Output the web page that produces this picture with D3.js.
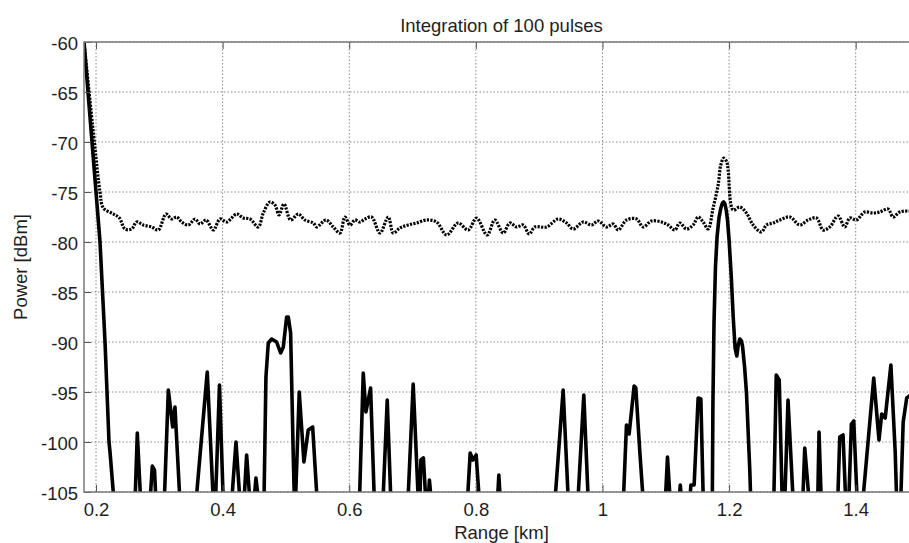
<!DOCTYPE html>
<html>
<head>
<meta charset="utf-8">
<script src="https://cdn.jsdelivr.net/npm/d3@7"></script>
<style>
  body { margin: 0; background: #fff; }
  text { font-family: "Liberation Sans", Arial, sans-serif; fill: #1e1e1e; }
</style>
</head>
<body>
<div id="chart"></div>
<script>
// axis ticks
const rangeTicks = [0.2, 0.4, 0.6, 0.8, 1, 1.2, 1.4];
const powerTicks = [-105, -100, -95, -90, -85, -80, -75, -70, -65, -60];

// dotted trace (noise floor of the integrated signal)
const dottedKm = [0.181, 0.1973, 0.2063, 0.2116, 0.2274, 0.2369, 0.2458, 0.2563, 0.2642, 0.2747,
  0.2879, 0.2984, 0.3105, 0.3195, 0.3274, 0.3353, 0.3458, 0.3563, 0.3642, 0.3737,
  0.3853, 0.3958, 0.4064, 0.4222, 0.4326, 0.4432, 0.4563, 0.4642, 0.4747, 0.4826,
  0.4890, 0.4969, 0.5074, 0.5195, 0.5300, 0.5432, 0.5485, 0.5632, 0.5748, 0.5853,
  0.5932, 0.6011, 0.6090, 0.6169, 0.6248, 0.6353, 0.6485, 0.6617, 0.6695, 0.6800,
  0.6932, 0.7064, 0.7222, 0.7380, 0.7538, 0.7721, 0.7879, 0.8011, 0.8178, 0.8300,
  0.8431, 0.8537, 0.8643, 0.8748, 0.8842, 0.8932, 0.9117, 0.9300, 0.9432, 0.9537,
  0.9695, 0.9827, 0.9932, 1.0064, 1.0169, 1.0248, 1.0380, 1.0538, 1.0643, 1.0774,
  1.0932, 1.1037, 1.1143, 1.1221, 1.1327, 1.1432, 1.1511, 1.1590, 1.1669, 1.1748,
  1.1827, 1.1869, 1.1916, 1.1963, 1.1985, 1.2064, 1.2169, 1.2274, 1.2380, 1.2511,
  1.2590, 1.2696, 1.2801, 1.2959, 1.3117, 1.3248, 1.3380, 1.3485, 1.3590, 1.3722,
  1.3827, 1.3906, 1.4011, 1.4143, 1.4274, 1.4380, 1.4511, 1.4590, 1.4696, 1.4838, 1.5];
const dottedDbm = [-60, -70, -75, -76.6, -77.2, -77.6, -78.7, -78.7, -78.0, -78.3,
  -78.5, -78.8, -77.2, -77.7, -77.5, -78.0, -78.3, -77.7, -78.2, -77.8,
  -78.8, -77.7, -78.0, -77.2, -77.6, -77.7, -78.5, -77.1, -76.0, -76.3,
  -77.3, -76.2, -77.8, -77.2, -77.8, -78.1, -78.5, -77.8, -78.5, -79.1,
  -77.5, -78.3, -77.8, -78.0, -77.7, -77.5, -79.1, -77.5, -79.1, -78.6,
  -78.3, -78.1, -77.8, -78.0, -79.3, -78.1, -78.8, -77.6, -79.3, -77.8,
  -79.1, -78.1, -78.5, -78.3, -79.2, -78.5, -78.5, -77.7, -78.1, -78.7,
  -78.0, -78.3, -77.9, -78.5, -78.2, -78.8, -77.8, -77.7, -78.5, -77.9,
  -78.0, -78.3, -78.8, -78.1, -78.7, -78.3, -77.5, -78.0, -78.7, -76.6,
  -74.3, -72.3, -71.6, -72.0, -72.8, -76.8, -76.5, -77.1, -78.3, -79.0,
  -78.3, -78.1, -77.8, -77.5, -78.3, -77.8, -77.6, -78.8, -78.5, -77.4,
  -78.5, -77.6, -77.8, -77.0, -77.1, -77.0, -76.7, -77.5, -77.0, -76.9, -77.0];

// solid trace (values under -105 fall below the axis and are clipped)
const solidKm = [0.181, 0.2, 0.2063, 0.2142, 0.2205, 0.2221, 0.2285, 0.245,
  0.2616, 0.2652, 0.2706, 0.278, 0.2853, 0.2889, 0.2924, 0.2947, 0.301,
  0.3078, 0.3142, 0.3211, 0.3247, 0.3326, 0.345,
  0.3579, 0.3757, 0.3853, 0.387, 0.3887, 0.3950, 0.4010, 0.408,
  0.4142, 0.4211, 0.4274, 0.4305, 0.4337, 0.4379, 0.4432, 0.4465, 0.4495, 0.4526, 0.4569, 0.461,
  0.4653, 0.4684, 0.4721, 0.4774, 0.4853, 0.4916, 0.4958, 0.5011, 0.5037, 0.5074, 0.5116, 0.5134,
  0.5142, 0.5150, 0.5210, 0.5284, 0.5352, 0.5422, 0.5494, 0.583,
  0.6161, 0.6221, 0.6263, 0.6337, 0.6397, 0.646, 0.6532, 0.6600, 0.6658, 0.679,
  0.6927, 0.7010, 0.7092, 0.711, 0.7132, 0.7171, 0.7211, 0.7238, 0.7266, 0.7298, 0.758,
  0.7866, 0.7910, 0.7953, 0.8005, 0.8056, 0.82, 0.8340, 0.8363, 0.8387, 0.88,
  0.9248, 0.9379, 0.9461, 0.9536, 0.9611, 0.9705, 0.9776, 1.005,
  1.0329, 1.0379, 1.0421, 1.0500, 1.0527, 1.0590, 1.0645, 1.082,
  1.0992, 1.1027, 1.1071, 1.114, 1.1208, 1.1229, 1.1251, 1.1315,
  1.1380, 1.1396, 1.1448, 1.1511, 1.1554, 1.1593, 1.166,
  1.1735, 1.1745, 1.1762, 1.1785, 1.1810, 1.1840, 1.1870, 1.1895, 1.1915, 1.1935,
  1.1955, 1.1975, 1.2000, 1.2035, 1.2065, 1.2095, 1.2122,
  1.2145, 1.2169, 1.2195, 1.2212, 1.2245, 1.2275, 1.2327, 1.2343, 1.252,
  1.2706, 1.2745, 1.2792, 1.2840, 1.286, 1.2879, 1.2931, 1.3013, 1.309,
  1.3163, 1.3195, 1.3266, 1.333, 1.3400, 1.3421, 1.3456, 1.358,
  1.3716, 1.3748, 1.3800, 1.3843, 1.3865, 1.3890, 1.3932, 1.3969, 1.4024, 1.407,
  1.4111, 1.4285, 1.4368, 1.4411, 1.4466, 1.4556, 1.4624, 1.4648, 1.468,
  1.4711, 1.4750, 1.4806, 1.4869, 1.4948, 1.4995];
const solidDbm = [-60, -75, -80, -90, -100, -101, -106, -112,
  -106, -99.1, -106, -112, -106, -102.4, -102.8, -106, -112,
  -106, -94.8, -98.5, -96.5, -106, -112,
  -106, -93.0, -106, -108, -106, -94.3, -106, -112,
  -106, -100.0, -106, -108, -106, -101.3, -106, -108, -106, -103.6, -106, -110,
  -106, -93.5, -90.1, -89.7, -90.0, -91.1, -90.5, -87.5, -87.5, -89.1, -101.5, -106,
  -107, -106, -95.0, -102.0, -98.8, -98.5, -106, -112,
  -106, -93.1, -97.0, -94.6, -106, -110, -106, -95.8, -106, -112,
  -106, -94.2, -106, -107, -101.8, -101.6, -106, -107, -103.8, -106, -112,
  -106, -101.1, -101.8, -101.3, -106, -112, -106, -103.3, -106, -112,
  -106, -94.8, -106, -110, -106, -95.3, -106, -112,
  -106, -98.3, -99.2, -94.4, -94.6, -101, -106, -112,
  -106, -101.5, -106, -109, -106, -104.3, -106, -109,
  -106, -104.3, -104.3, -95.6, -95.7, -106, -110,
  -106, -96, -88, -82.5, -79.5, -77.6, -76.6, -76.1, -76.0, -76.2,
  -76.8, -77.8, -79.8, -83.5, -87.5, -90.6, -91.4,
  -90.3, -89.7, -89.9, -90.4, -92.5, -95.1, -102.8, -106, -112,
  -106, -93.3, -93.8, -106, -108, -106, -95.8, -106, -110,
  -106, -100.6, -106, -110, -106, -99.0, -106, -112,
  -106, -99.5, -99.3, -106, -108, -106, -98.2, -97.9, -106, -110,
  -106, -93.6, -99.8, -97.2, -97.6, -92.3, -101, -106, -108,
  -106, -98, -95.6, -95.3, -97, -99];

const width = 909, height = 543;
const plotLeft = 84, plotTop = 42, plotRight = 919, plotBottom = 492;

const x = d3.scaleLinear().domain([0.181, 1.5]).range([plotLeft, plotRight]);
const y = d3.scaleLinear().domain([-105, -60]).range([plotBottom, plotTop]);

// plain hyphen minus, like the original figure
const plainNum = d => String(d);

const svg = d3.select("#chart").append("svg")
  .attr("width", width)
  .attr("height", height)
  .style("display", "block");

svg.append("defs").append("clipPath").attr("id", "plot")
  .append("rect")
  .attr("x", plotLeft).attr("y", plotTop)
  .attr("width", plotRight - plotLeft).attr("height", plotBottom - plotTop);

// grid
const grid = svg.append("g")
  .attr("stroke", "#8a8a8a")
  .attr("stroke-width", 1)
  .attr("stroke-dasharray", "1.5,2");
grid.selectAll(".gx").data(rangeTicks).join("line")
  .attr("x1", d => x(d)).attr("x2", d => x(d))
  .attr("y1", plotTop).attr("y2", plotBottom);
grid.selectAll(".gy").data(powerTicks).join("line")
  .attr("x1", plotLeft).attr("x2", plotRight)
  .attr("y1", d => y(d)).attr("y2", d => y(d));

// lines
const plot = svg.append("g").attr("clip-path", "url(#plot)");

const dottedLine = d3.line()
  .x((d, i) => x(dottedKm[i]))
  .y(d => y(d))
  .curve(d3.curveCatmullRom.alpha(0.5));

plot.append("path")
  .attr("d", dottedLine(dottedDbm))
  .attr("fill", "none")
  .attr("stroke", "#000")
  .attr("stroke-width", 3.2)
  .attr("stroke-dasharray", "2.2,1.3");

const solidLine = d3.line()
  .x((d, i) => x(solidKm[i]))
  .y(d => y(d));

plot.append("path")
  .attr("d", solidLine(solidDbm))
  .attr("fill", "none")
  .attr("stroke", "#000")
  .attr("stroke-width", 3.6)
  .attr("stroke-linejoin", "round");

// axes
const fontSize = 18.5;

const xAxis = svg.append("g")
  .attr("transform", `translate(0,${plotBottom})`)
  .call(d3.axisBottom(x).tickValues(rangeTicks).tickSizeInner(-7).tickSizeOuter(0).tickPadding(11)
    .tickFormat(plainNum));
xAxis.select(".domain").remove();
xAxis.selectAll("line").attr("stroke", "#555");
xAxis.selectAll("text").attr("font-size", fontSize).attr("fill", "#1e1e1e");

const xTop = svg.append("g")
  .attr("transform", `translate(0,${plotTop})`)
  .call(d3.axisTop(x).tickValues(rangeTicks).tickSizeInner(-7).tickSizeOuter(0).tickFormat(""));
xTop.select(".domain").remove();
xTop.selectAll("line").attr("stroke", "#555");

const yAxis = svg.append("g")
  .attr("transform", `translate(${plotLeft},0)`)
  .call(d3.axisLeft(y).tickValues(powerTicks).tickSizeInner(-7).tickSizeOuter(0).tickPadding(6)
    .tickFormat(plainNum));
yAxis.select(".domain").remove();
yAxis.selectAll("line").attr("stroke", "#555");
yAxis.selectAll("text").attr("font-size", fontSize).attr("dy", "0.43em").attr("fill", "#1e1e1e");

// frame
svg.append("rect")
  .attr("x", plotLeft).attr("y", plotTop)
  .attr("width", plotRight - plotLeft).attr("height", plotBottom - plotTop)
  .attr("fill", "none")
  .attr("stroke", "#7a7a7a")
  .attr("stroke-width", 1.5);

// labels
svg.append("text")
  .attr("x", (plotLeft + plotRight) / 2).attr("y", 32)
  .attr("text-anchor", "middle")
  .attr("font-size", fontSize)
  .text("Integration of 100 pulses");

svg.append("text")
  .attr("x", (plotLeft + plotRight) / 2).attr("y", 539)
  .attr("text-anchor", "middle")
  .attr("font-size", fontSize)
  .text("Range [km]");

svg.append("text")
  .attr("transform", `translate(27,${(plotTop + plotBottom) / 2}) rotate(-90)`)
  .attr("text-anchor", "middle")
  .attr("font-size", fontSize)
  .text("Power [dBm]");
</script>
</body>
</html>
